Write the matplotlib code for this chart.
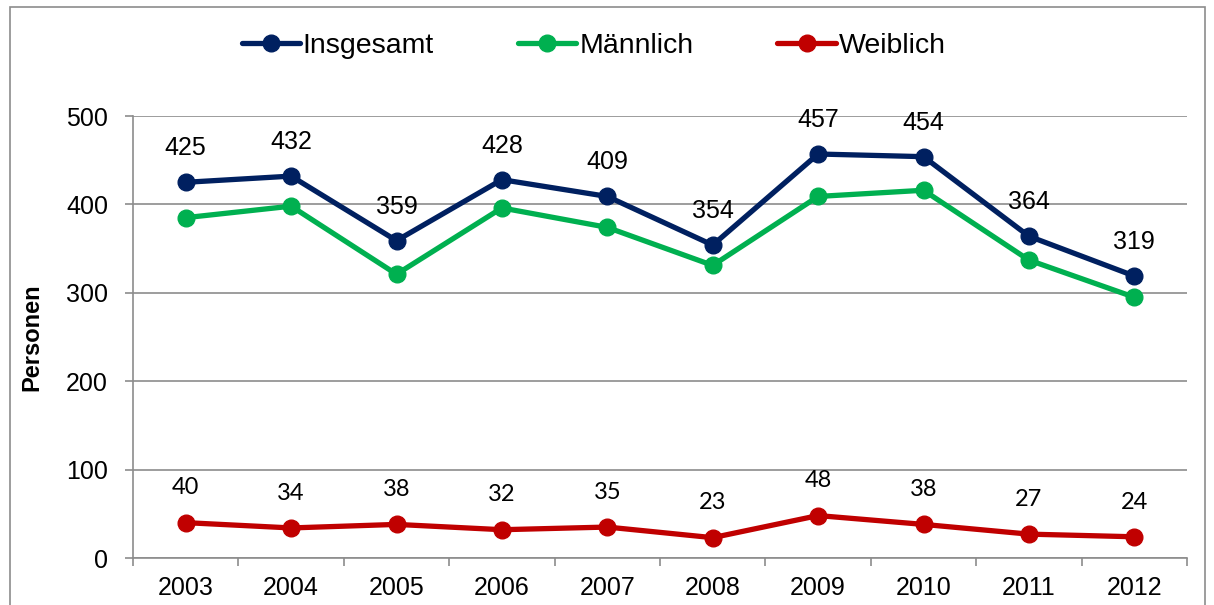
import matplotlib.pyplot as plt
from matplotlib.patches import Rectangle

# Chart data
years = ["2003", "2004", "2005", "2006", "2007", "2008", "2009", "2010", "2011", "2012"]
insgesamt = [425, 432, 359, 428, 409, 354, 457, 454, 364, 319]
maennlich = [385, 398, 321, 396, 374, 331, 409, 416, 337, 295]
weiblich = [40, 34, 38, 32, 35, 23, 48, 38, 27, 24]

plt.rcParams['font.family'] = ['Liberation Sans', 'DejaVu Sans']

fig = plt.figure(figsize=(12.14, 6.05), dpi=100)
ax = fig.add_axes([133 / 1214, 1 - 558 / 605, (1187 - 133) / 1214, (558 - 116) / 605])

# outer chart border
fig.patches.append(Rectangle((10 / 1214, -0.05), (1205 - 10) / 1214, 1.05 - 7 / 605,
                             transform=fig.transFigure, fill=False,
                             edgecolor='#8c8c8c', linewidth=1.2))

x = range(len(years))
series = [
    ("Insgesamt", insgesamt, '#002060'),
    ("Männlich", maennlich, '#00B050'),
    ("Weiblich", weiblich, '#C00000'),
]
for name, vals, col in series:
    ax.plot(x, vals, color=col, lw=3.8, marker='o', markersize=12,
            label=name, solid_capstyle='round', zorder=3)

# data labels
for i, v in enumerate(insgesamt):
    ax.annotate(str(v), (i, v), xytext=(0, 24.5), textcoords='offset points',
                ha='center', va='center', fontsize=18)
for i, v in enumerate(weiblich):
    ax.annotate(str(v), (i, v), xytext=(0, 25), textcoords='offset points',
                ha='center', va='center', fontsize=17, family=['Lato', 'DejaVu Sans'])

ax.set_xlim(-0.5, len(years) - 0.5)
ax.set_ylim(0, 500)
ax.set_yticks([0, 100, 200, 300, 400, 500])
ax.set_xticks(x)
ax.set_xticklabels(years)
ax.set_xticks([i - 0.5 for i in range(len(years) + 1)], minor=True)
ax.tick_params(axis='x', which='major', length=0, labelsize=18, pad=13)
ax.tick_params(axis='x', which='minor', length=6, color='#8c8c8c', width=1.2)
ax.tick_params(axis='y', length=6, color='#8c8c8c', width=1.2, labelsize=18, pad=12)

ax.grid(axis='y', color='#8c8c8c', lw=1.2, zorder=0)
ax.set_axisbelow(True)
for s in ['top', 'right']:
    ax.spines[s].set_visible(False)
for s in ['left', 'bottom']:
    ax.spines[s].set_color('#8c8c8c')
    ax.spines[s].set_linewidth(1.2)

ax.set_ylabel("Personen", fontsize=17, fontweight='bold', labelpad=16)

fig.legend(loc='center', bbox_to_anchor=(0.489, 1 - 46 / 605), ncol=3, frameon=False,
           fontsize=20.5, handlelength=2.05, handletextpad=0.1, columnspacing=2.95)

fig.savefig("out.png", dpi=100)
